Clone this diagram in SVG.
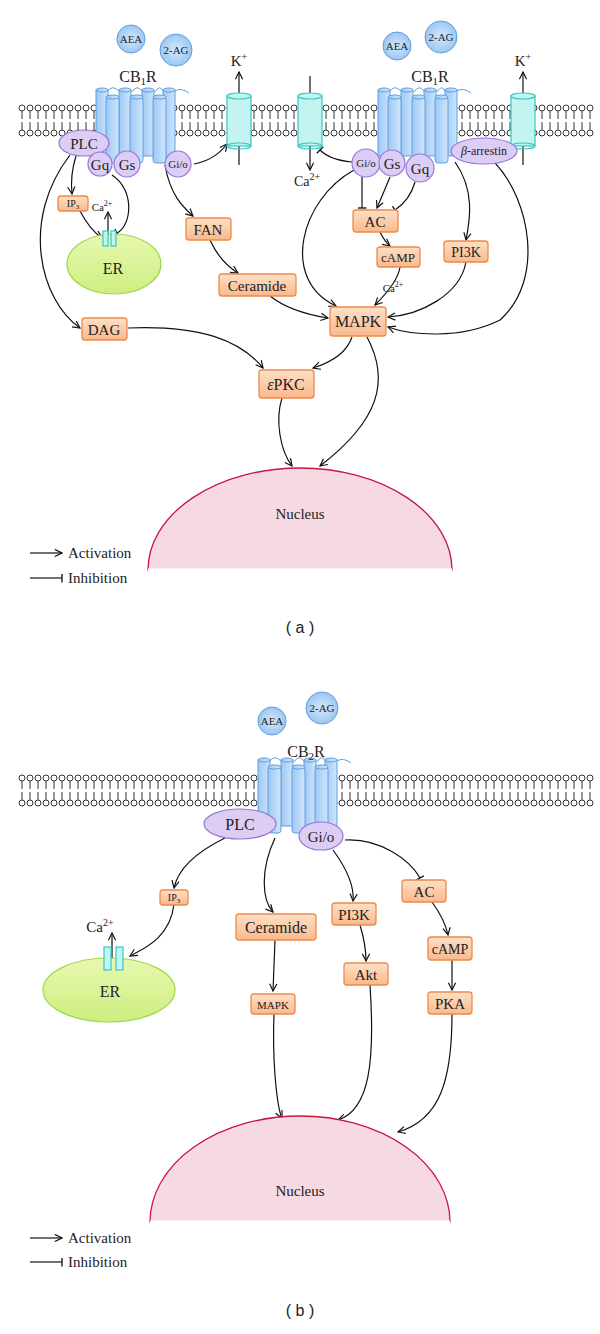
<svg xmlns="http://www.w3.org/2000/svg" width="600" height="1334" viewBox="0 0 600 1334">
<defs>
<style>
text{font-family:"Liberation Serif","DejaVu Serif",serif;fill:#222}
.box{fill:url(#bg);stroke:#f0884a;stroke-width:1.3}
.g{fill:#dccdf5;stroke:#9678d8;stroke-width:1.2}
.ch{fill:#c4f4f1;stroke:#38c8c0;stroke-width:1.2}
.lig{fill:url(#lg);stroke:#5b9fe0;stroke-width:1}
.c{fill:none;stroke:#111;stroke-width:1.2}
.a{marker-end:url(#arr)}
.i{marker-end:url(#inh)}
.hel{fill:url(#hg);stroke:#5d9fe2;stroke-width:1}
</style>
<linearGradient id="bg" x1="0" y1="0" x2="0" y2="1"><stop offset="0" stop-color="#fde0c8"/><stop offset="1" stop-color="#f9b98c"/></linearGradient>
<linearGradient id="hg" x1="0" y1="0" x2="1" y2="0"><stop offset="0" stop-color="#9ec8f4"/><stop offset="1" stop-color="#cfe5fb"/></linearGradient>
<radialGradient id="lg"><stop offset="0" stop-color="#d4e8fb"/><stop offset="1" stop-color="#9cc7f2"/></radialGradient>
<linearGradient id="erg" x1="0" y1="0" x2="0" y2="1"><stop offset="0" stop-color="#e8f8b0"/><stop offset="1" stop-color="#cdee80"/></linearGradient>
<marker id="arr" viewBox="0 0 10 10" refX="9" refY="5" markerWidth="9" markerHeight="9" orient="auto" markerUnits="userSpaceOnUse"><path d="M1,1 L9,5 L1,9" fill="none" stroke="#111" stroke-width="1.3"/></marker>
<marker id="inh" viewBox="0 0 10 10" refX="9" refY="5" markerWidth="9" markerHeight="9" orient="auto" markerUnits="userSpaceOnUse"><path d="M9,0 L9,10" fill="none" stroke="#111" stroke-width="1.5"/></marker>
<pattern id="mem" x="0" y="0" width="8" height="33" patternUnits="userSpaceOnUse">
<line x1="4" y1="7" x2="4" y2="15" stroke="#333" stroke-width="1"/><line x1="4" y1="18" x2="4" y2="26" stroke="#333" stroke-width="1"/>
<circle cx="4" cy="4" r="3" fill="#fff" stroke="#333" stroke-width="1"/><circle cx="4" cy="29" r="3" fill="#fff" stroke="#333" stroke-width="1"/>
</pattern>
<g id="rec">
<path d="M107,92 q5,-8 12,-1 M132,92 q5,-8 10,-1 M155,92 q5,-8 8,-1 M175,91 q6,-4 14,2" fill="none" stroke="#5d9fe2" stroke-width="1"/>
<rect class="hel" x="96" y="90" width="12" height="66"/><ellipse class="hel" cx="102" cy="90" rx="6" ry="2"/>
<rect class="hel" x="119" y="90" width="12" height="66"/><ellipse class="hel" cx="125" cy="90" rx="6" ry="2"/>
<rect class="hel" x="142" y="90" width="12" height="66"/><ellipse class="hel" cx="148" cy="90" rx="6" ry="2"/>
<rect class="hel" x="163" y="90" width="12" height="66"/><ellipse class="hel" cx="169" cy="90" rx="6" ry="2"/>
<rect class="hel" x="106" y="97" width="13" height="66" rx="3"/><ellipse class="hel" cx="112.5" cy="97" rx="6.5" ry="2"/>
<rect class="hel" x="130" y="97" width="13" height="66" rx="3"/><ellipse class="hel" cx="136.5" cy="97" rx="6.5" ry="2"/>
<rect class="hel" x="153" y="97" width="13" height="66" rx="3"/><ellipse class="hel" cx="159.5" cy="97" rx="6.5" ry="2"/>
</g>
<g id="chan"><rect class="ch" x="0" y="0" width="24" height="50"/><ellipse class="ch" cx="12" cy="0" rx="12" ry="3"/><ellipse cx="12" cy="50" rx="12" ry="3" fill="none" stroke="#38c8c0" stroke-width="1.2"/></g>
</defs>
<rect width="600" height="1334" fill="#fff"/>

<g transform="translate(18,104)"><rect x="0" y="0" width="576" height="33" fill="url(#mem)"/></g>
<g transform="translate(18,774)"><rect x="0" y="0" width="576" height="33" fill="url(#mem)"/></g>

<g id="connectors">
<path class="c a" d="M76,156 Q70,175 72,194"/>
<path class="c a" d="M70,155 C20,220 40,300 80,328"/>
<path class="c a" d="M80,211 Q90,230 102,238"/>
<path class="c i" d="M112,175 C135,190 132,225 117,233"/>
<path class="c a" d="M108,262 L108,212"/>
<path class="c a" d="M194,164 Q215,160 227,144"/>
<path class="c a" d="M165,165 C170,195 183,207 193,216"/>
<path class="c a" d="M210,240 Q220,262 238,273"/>
<path class="c a" d="M270,296 Q290,312 328,318"/>
<path class="c a" d="M128,328 C200,325 240,340 263,368"/>
<path class="c a" d="M352,337 Q345,358 313,368"/>
<path class="c a" d="M367,337 C390,380 380,420 320,466"/>
<path class="c a" d="M282,398 C275,420 280,450 292,466"/>
<path class="c a" d="M239,165 L239,72"/>
<path class="c a" d="M310,76 L310,170"/>
<path class="c a" d="M523,165 L523,72"/>
<path class="c i" d="M352,162 Q330,160 320,150"/>
<path class="c a" d="M354,170 C300,200 280,280 336,306"/>
<path class="c i" d="M362,177 L362,208"/>
<path class="c a" d="M390,177 L377,208"/>
<path class="c i" d="M415,182 Q410,200 395,210"/>
<path class="c a" d="M380,232 Q385,242 390,246"/>
<path class="c a" d="M400,267 Q398,282 375,305"/>
<path class="c a" d="M455,162 C475,190 470,220 466,240"/>
<path class="c a" d="M466,262 C460,295 420,315 388,317"/>
<path class="c a" d="M495,163 C530,200 545,280 500,320 C460,340 410,335 388,327"/>
<path class="c a" d="M30,553 L62,553"/>
<path class="c i" d="M30,578 L62,578"/>
<path class="c a" d="M225,838 Q180,860 174,888"/>
<path class="c a" d="M174,904 C170,940 140,950 130,956"/>
<path class="c a" d="M112,980 L112,933"/>
<path class="c a" d="M275,838 C260,870 262,900 273,912"/>
<path class="c a" d="M275,940 L273,991"/>
<path class="c a" d="M274,1014 C272,1070 278,1110 282,1118"/>
<path class="c a" d="M333,850 Q355,880 353,901"/>
<path class="c a" d="M360,925 Q366,945 366,961"/>
<path class="c a" d="M370,985 C375,1060 370,1110 338,1120"/>
<path class="c i" d="M345,840 C380,838 410,860 420,878"/>
<path class="c a" d="M432,902 Q445,920 448,935"/>
<path class="c a" d="M452,960 L452,990"/>
<path class="c a" d="M452,1014 C452,1080 440,1120 398,1132"/>
<path class="c a" d="M30,1238 L62,1238"/>
<path class="c i" d="M30,1262 L62,1262"/>
</g>

<g id="receptorA1"><use href="#rec"/><text x="138" y="82" font-size="16" text-anchor="middle">CB<tspan font-size="11" dy="3">1</tspan><tspan dy="-3">R</tspan></text></g>
<g id="receptorA2"><use href="#rec" transform="translate(282,0)"/><text x="430" y="82" font-size="16" text-anchor="middle">CB<tspan font-size="11" dy="3">1</tspan><tspan dy="-3">R</tspan></text></g>
<g id="ligA"><circle class="lig" cx="131" cy="39" r="14"/><text x="131" y="43" font-size="11" text-anchor="middle">AEA</text>
<circle class="lig" cx="176" cy="50" r="16"/><text x="176" y="54" font-size="11" text-anchor="middle">2-AG</text>
<circle class="lig" cx="397" cy="46" r="14"/><text x="397" y="50" font-size="11" text-anchor="middle">AEA</text>
<circle class="lig" cx="441" cy="37" r="16"/><text x="441" y="41" font-size="11" text-anchor="middle">2-AG</text></g>
<g id="chanA"><use href="#chan" transform="translate(227,96)"/><use href="#chan" transform="translate(298,96)"/><use href="#chan" transform="translate(511,96)"/>
<text x="239" y="66" font-size="15" text-anchor="middle">K<tspan font-size="10" dy="-6">+</tspan></text>
<text x="523" y="66" font-size="15" text-anchor="middle">K<tspan font-size="10" dy="-6">+</tspan></text>
<text x="307" y="186" font-size="14" text-anchor="middle">Ca<tspan font-size="10" dy="-6">2+</tspan></text></g>
<g id="plcA"><ellipse class="g" cx="84" cy="143" rx="25" ry="13"/><text x="84" y="149" font-size="15" text-anchor="middle">PLC</text></g>
<g id="gqA"><circle class="g" cx="100" cy="164" r="12"/><text x="100" y="170" font-size="15" text-anchor="middle">Gq</text></g>
<g id="gsA"><circle class="g" cx="127" cy="164" r="13"/><text x="127" y="170" font-size="15" text-anchor="middle">Gs</text></g>
<g id="gioA"><circle class="g" cx="178" cy="164" r="13"/><text x="178" y="168" font-size="11" text-anchor="middle">Gi/o</text></g>
<g id="gioA2"><circle class="g" cx="366" cy="163" r="14"/><text x="366" y="167" font-size="11" text-anchor="middle">Gi/o</text></g>
<g id="gsA2"><circle class="g" cx="392" cy="163" r="13"/><text x="392" y="169" font-size="15" text-anchor="middle">Gs</text></g>
<g id="gqA2"><circle class="g" cx="420" cy="168" r="14"/><text x="420" y="174" font-size="15" text-anchor="middle">Gq</text></g>
<g id="arrestin"><ellipse class="g" cx="484" cy="151" rx="33" ry="13"/><text x="484" y="155" font-size="12" text-anchor="middle"><tspan font-style="italic">β</tspan>-arrestin</text></g>
<g id="erA"><ellipse cx="114" cy="264" rx="47" ry="30" fill="url(#erg)" stroke="#9dd84a" stroke-width="1.2"/>
<rect class="ch" x="103" y="231" width="5" height="15"/><rect class="ch" x="111" y="231" width="5" height="15"/>
<text x="113" y="274" font-size="16" text-anchor="middle">ER</text>
<text x="102" y="211" font-size="11" text-anchor="middle">Ca<tspan font-size="8" dy="-5">2+</tspan></text></g>
<g id="ip3A"><rect class="box" x="58" y="196" width="30" height="15" rx="3"/><text x="73" y="207" font-size="10" text-anchor="middle">IP<tspan font-size="7" dy="2">3</tspan></text></g>
<g id="fan"><rect class="box" x="186" y="218" width="45" height="22" rx="3"/><text x="208" y="235" font-size="15" text-anchor="middle">FAN</text></g>
<g id="ceramideA"><rect class="box" x="219" y="274" width="77" height="22" rx="3"/><text x="257" y="291" font-size="15" text-anchor="middle">Ceramide</text></g>
<g id="dag"><rect class="box" x="82" y="318" width="45" height="22" rx="3"/><text x="104" y="335" font-size="15" text-anchor="middle">DAG</text></g>
<g id="mapkA"><rect class="box" x="330" y="307" width="56" height="29" rx="3"/><text x="358" y="327" font-size="16" text-anchor="middle">MAPK</text></g>
<g id="epkc"><rect class="box" x="259" y="370" width="55" height="28" rx="3"/><text x="286" y="390" font-size="16" text-anchor="middle"><tspan font-style="italic">ε</tspan>PKC</text></g>
<g id="acA"><rect class="box" x="353" y="210" width="45" height="22" rx="3"/><text x="375" y="227" font-size="15" text-anchor="middle">AC</text></g>
<g id="campA"><rect class="box" x="377" y="247" width="43" height="20" rx="3"/><text x="398" y="262" font-size="13" text-anchor="middle">cAMP</text></g>
<g id="pi3kA"><rect class="box" x="444" y="241" width="44" height="21" rx="3"/><text x="466" y="257" font-size="14" text-anchor="middle">PI3K</text></g>
<text x="393" y="292" font-size="11" text-anchor="middle">Ca<tspan font-size="8" dy="-5">2+</tspan></text>
<g id="nucleusA"><path d="M148,570 A152,102 0 0 1 452,570 Z" fill="#f6d9e2" stroke="#c8163e" stroke-width="1.3"/><path d="M148,570 L452,570" stroke="#fff" stroke-width="3"/><text x="300" y="519" font-size="15" text-anchor="middle">Nucleus</text></g>
<text x="68" y="558" font-size="15">Activation</text>
<text x="68" y="583" font-size="15">Inhibition</text>
<text x="300" y="633" font-size="16" text-anchor="middle" style="font-family:'Liberation Sans',sans-serif">( a )</text>

<g id="receptorB"><use href="#rec" transform="translate(162,670)"/><text x="306" y="757" font-size="16" text-anchor="middle">CB<tspan font-size="11" dy="3">2</tspan><tspan dy="-3">R</tspan></text></g>
<g id="ligB"><circle class="lig" cx="272" cy="721" r="14"/><text x="272" y="725" font-size="11" text-anchor="middle">AEA</text>
<circle class="lig" cx="322" cy="708" r="16"/><text x="322" y="712" font-size="11" text-anchor="middle">2-AG</text></g>
<g id="plcB"><ellipse class="g" cx="240" cy="824" rx="36" ry="15"/><text x="240" y="830" font-size="16" text-anchor="middle">PLC</text></g>
<g id="gioB"><ellipse class="g" cx="321" cy="836" rx="22" ry="14"/><text x="321" y="842" font-size="15" text-anchor="middle">Gi/o</text></g>
<g id="ip3B"><rect class="box" x="160" y="890" width="28" height="15" rx="3"/><text x="174" y="901" font-size="10" text-anchor="middle">IP<tspan font-size="7" dy="2">3</tspan></text></g>
<g id="erB"><ellipse cx="109" cy="990" rx="66" ry="32" fill="url(#erg)" stroke="#9dd84a" stroke-width="1.2"/>
<rect class="ch" x="104" y="947" width="7" height="23"/><rect class="ch" x="116" y="947" width="7" height="23"/>
<text x="110" y="997" font-size="16" text-anchor="middle">ER</text>
<text x="100" y="932" font-size="15" text-anchor="middle">Ca<tspan font-size="10" dy="-6">2+</tspan></text></g>
<g id="ceramideB"><rect class="box" x="236" y="914" width="80" height="26" rx="3"/><text x="276" y="933" font-size="16" text-anchor="middle">Ceramide</text></g>
<g id="mapkB"><rect class="box" x="251" y="994" width="44" height="20" rx="3"/><text x="273" y="1009" font-size="11" text-anchor="middle">MAPK</text></g>
<g id="pi3kB"><rect class="box" x="332" y="903" width="44" height="22" rx="3"/><text x="354" y="920" font-size="15" text-anchor="middle">PI3K</text></g>
<g id="akt"><rect class="box" x="344" y="963" width="44" height="22" rx="3"/><text x="366" y="980" font-size="15" text-anchor="middle">Akt</text></g>
<g id="acB"><rect class="box" x="402" y="880" width="44" height="22" rx="3"/><text x="424" y="897" font-size="15" text-anchor="middle">AC</text></g>
<g id="campB"><rect class="box" x="428" y="937" width="44" height="23" rx="3"/><text x="450" y="954" font-size="14" text-anchor="middle">cAMP</text></g>
<g id="pka"><rect class="box" x="428" y="992" width="44" height="22" rx="3"/><text x="450" y="1009" font-size="15" text-anchor="middle">PKA</text></g>
<g id="nucleusB"><path d="M150,1222 A150,106 0 0 1 450,1222 Z" fill="#f6d9e2" stroke="#c8163e" stroke-width="1.3"/><path d="M150,1222 L450,1222" stroke="#fff" stroke-width="3"/><text x="300" y="1196" font-size="15" text-anchor="middle">Nucleus</text></g>
<text x="68" y="1243" font-size="15">Activation</text>
<text x="68" y="1267" font-size="15">Inhibition</text>
<text x="300" y="1316" font-size="16" text-anchor="middle" style="font-family:'Liberation Sans',sans-serif">( b )</text>
</svg>
